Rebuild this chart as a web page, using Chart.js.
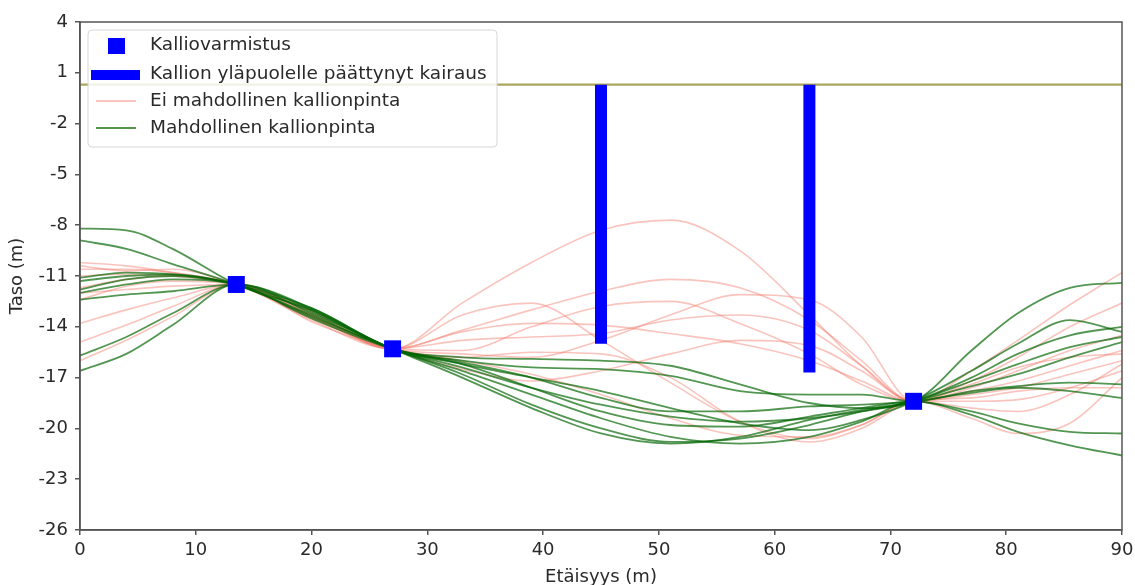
<!DOCTYPE html>
<html>
<head>
<meta charset="utf-8">
<script src="https://cdn.jsdelivr.net/npm/chart.js@4/dist/chart.umd.min.js"></script>
<style>
  html, body { margin: 0; padding: 0; background: #fff; }
  #wrap { width: 1135px; height: 585px; }
</style>
</head>
<body>
<div id="wrap"><canvas id="c" width="1135" height="585"></canvas></div>
<script>
// ---- data ----
const xPos = [0, 4, 8, 13.5, 20, 27, 33, 39, 45, 51, 57, 63, 67.5, 72, 77, 81, 85.5, 90];

const green1 = [-8.2, -8.3, -9.4, -11.5, -13.0, -15.3, -15.8, -15.9, -16.0, -16.3, -17.4, -18.5, -18.8, -18.4, -15.4, -13.2, -11.7, -11.4];
const green2 = [-8.9, -9.4, -10.3, -11.5, -13.3, -15.3, -16.2, -17.0, -17.8, -18.8, -19.7, -20.1, -19.5, -18.4, -16.6, -15.0, -13.6, -14.3];
const green3 = [-11.1, -10.8, -10.9, -11.5, -13.4, -15.3, -16.8, -18.6, -20.0, -20.8, -20.6, -19.8, -19.0, -18.4, -17.2, -16.2, -15.2, -14.6];
const green4 = [-11.3, -11.0, -10.9, -11.5, -13.1, -15.3, -16.4, -17.6, -18.6, -19.3, -19.6, -19.4, -19.0, -18.4, -17.0, -15.6, -14.5, -14.0];
const green5 = [-11.8, -11.2, -11.0, -11.5, -12.9, -15.3, -16.0, -16.4, -16.5, -16.9, -17.8, -18.0, -18.0, -18.4, -17.8, -17.5, -17.3, -17.4];
const green6 = [-12.4, -12.1, -11.9, -11.5, -13.0, -15.3, -16.6, -18.0, -19.4, -20.5, -20.9, -20.5, -19.6, -18.4, -19.0, -19.7, -20.2, -20.3];
const green7 = [-15.7, -14.6, -13.2, -11.5, -12.9, -15.3, -16.2, -17.6, -19.0, -19.8, -19.9, -19.3, -18.8, -18.4, -19.2, -20.2, -21.0, -21.6];
const green8 = [-16.6, -15.6, -13.9, -11.5, -13.2, -15.3, -17.0, -18.8, -20.3, -20.9, -20.5, -19.5, -18.9, -18.4, -17.5, -16.8, -15.8, -14.9];
const green9 = [-12.0, -11.5, -11.2, -11.5, -13.5, -15.3, -16.1, -17.0, -18.2, -19.0, -19.0, -18.7, -18.6, -18.4, -17.9, -17.6, -17.8, -18.2];

const pink1 = [-10.2, -10.4, -10.8, -11.5, -13.1, -15.3, -12.6, -10.2, -8.3, -7.7, -9.5, -13.3, -16.3, -18.4, -16.6, -14.8, -12.7, -10.8];
const pink2 = [-10.4, -10.7, -10.6, -11.5, -13.4, -15.3, -14.2, -13.0, -11.9, -11.2, -11.7, -13.6, -16.0, -18.4, -17.2, -15.8, -14.0, -12.6];
const pink3 = [-10.6, -10.6, -10.8, -11.5, -13.5, -15.3, -15.6, -15.8, -14.8, -13.3, -12.1, -12.4, -14.6, -18.4, -17.6, -16.6, -15.4, -14.5];
const pink4 = [-11.7, -11.2, -11.0, -11.5, -13.6, -15.3, -13.3, -12.6, -14.8, -17.3, -19.6, -20.6, -19.8, -18.4, -19.4, -20.3, -19.7, -17.0];
const pink5 = [-12.4, -11.6, -11.3, -11.5, -13.3, -15.3, -14.3, -13.8, -13.9, -14.4, -15.0, -16.0, -17.2, -18.4, -17.8, -17.2, -16.3, -15.4];
const pink6 = [-13.8, -13.0, -12.3, -11.5, -13.2, -15.3, -14.8, -14.6, -14.4, -13.6, -13.3, -14.2, -16.3, -18.4, -18.0, -17.6, -16.8, -16.0];
const pink7 = [-14.9, -13.9, -12.8, -11.5, -13.4, -15.3, -16.5, -17.2, -16.6, -15.6, -14.8, -15.1, -16.6, -18.4, -18.4, -18.3, -17.6, -16.6];
const pink8 = [-16.0, -14.8, -13.4, -11.5, -13.7, -15.3, -15.8, -15.5, -15.6, -17.0, -19.6, -20.8, -20.0, -18.4, -18.2, -17.8, -17.6, -17.6];
const pink9 = [-11.0, -10.9, -11.0, -11.5, -13.0, -15.3, -15.4, -14.0, -12.8, -12.5, -13.8, -15.6, -17.4, -18.4, -17.4, -16.4, -15.8, -15.6];
const pink10 = [-12.0, -11.8, -11.6, -11.5, -13.3, -15.3, -16.0, -16.8, -18.0, -19.4, -20.4, -20.5, -19.8, -18.4, -18.8, -19.0, -18.0, -16.2];

const groundX = [0, 90];
const groundLevel = [0.3, 0.3];

const drillX = [45, 63];
const drillTop = [0.3, 0.3];
const drillBottom = [-15.0, -16.7];

const rockX = [13.5, 27, 72];
const rockY = [-11.5, -15.3, -18.4];

const xTicks = [0, 10, 20, 30, 40, 50, 60, 70, 80, 90];
const yTicks = [4, 1, -2, -5, -8, -11, -14, -17, -20, -23, -26];

const legendLabels = ['Kalliovarmistus', 'Kallion yläpuolelle päättynyt kairaus', 'Ei mahdollinen kallionpinta', 'Mahdollinen kallionpinta'];
const xTitle = 'Etäisyys (m)';
const yTitle = 'Taso (m)';

// ---- styles ----
const GREEN = 'rgba(0,100,0,0.68)';
const PINK = 'rgba(242,125,108,0.45)';
const BLUE = '#0000ff';
const OLIVE = '#aaa65e';
const FONT = 'DejaVu Sans';
const TEXT = '#2a2a2a';
const AXIS = '#555';

const toPts = (xs, ys) => xs.map((x, i) => ({ x: x, y: ys[i] }));

const greens = [green1, green2, green3, green4, green5, green6, green7, green8, green9];
const pinks = [pink1, pink2, pink3, pink4, pink5, pink6, pink7, pink8, pink9, pink10];

const datasets = [];
pinks.forEach((p, i) => datasets.push({
  label: 'pink' + i, data: toPts(xPos, p), borderColor: PINK, borderWidth: 1.6,
  pointRadius: 0, cubicInterpolationMode: 'monotone', order: 5
}));
greens.forEach((g, i) => datasets.push({
  label: 'green' + i, data: toPts(xPos, g), borderColor: GREEN, borderWidth: 1.8,
  pointRadius: 0, cubicInterpolationMode: 'monotone', order: 4
}));
datasets.push({
  label: 'ground', data: toPts(groundX, groundLevel), borderColor: OLIVE, borderWidth: 2.2,
  pointRadius: 0, order: 3
});
drillX.forEach((x, i) => datasets.push({
  label: 'drill' + i, data: [{ x: x, y: drillTop[i] }, { x: x, y: drillBottom[i] }],
  borderColor: BLUE, borderWidth: 12, borderCapStyle: 'butt', pointRadius: 0, order: 2
}));
datasets.push({
  label: 'rock', data: toPts(rockX, rockY), showLine: false, pointStyle: 'rect',
  pointRadius: 12, backgroundColor: BLUE, borderColor: BLUE, borderWidth: 0, order: 1
});

const framePlugin = {
  id: 'frameAndLegend',
  afterDraw(chart) {
    const ctx = chart.ctx;
    const a = chart.chartArea;
    ctx.save();
    ctx.strokeStyle = AXIS;
    ctx.lineWidth = 1.5;
    ctx.strokeRect(a.left, a.top, a.right - a.left, a.bottom - a.top);

    // legend box
    const lx = 88, ly = 30, lw = 409, lh = 117, r = 4;
    ctx.beginPath();
    ctx.moveTo(lx + r, ly);
    ctx.arcTo(lx + lw, ly, lx + lw, ly + lh, r);
    ctx.arcTo(lx + lw, ly + lh, lx, ly + lh, r);
    ctx.arcTo(lx, ly + lh, lx, ly, r);
    ctx.arcTo(lx, ly, lx + lw, ly, r);
    ctx.closePath();
    ctx.fillStyle = 'rgba(255,255,255,0.85)';
    ctx.fill();
    ctx.strokeStyle = '#d6d6d6';
    ctx.lineWidth = 1;
    ctx.stroke();

    const rows = [45, 74, 101, 128];
    ctx.fillStyle = BLUE;
    ctx.fillRect(108, 38, 17, 16);
    ctx.fillRect(91, 70, 49, 10);
    ctx.strokeStyle = PINK; ctx.lineWidth = 2;
    ctx.beginPath(); ctx.moveTo(96, rows[2]); ctx.lineTo(136, rows[2]); ctx.stroke();
    ctx.strokeStyle = GREEN; ctx.lineWidth = 2;
    ctx.beginPath(); ctx.moveTo(96, rows[3]); ctx.lineTo(136, rows[3]); ctx.stroke();

    ctx.fillStyle = TEXT;
    ctx.font = '18.5px "' + FONT + '"';
    ctx.textBaseline = 'middle';
    ctx.textAlign = 'left';
    legendLabels.forEach((t, i) => ctx.fillText(t, 150, rows[i]));
    ctx.restore();
  }
};

new Chart(document.getElementById('c'), {
  type: 'line',
  data: { datasets: datasets },
  options: {
    responsive: false,
    animation: false,
    layout: { padding: { left: 0, right: 13, top: 22, bottom: 0 } },
    plugins: { legend: { display: false }, tooltip: { enabled: false } },
    scales: {
      x: {
        type: 'linear', min: 0, max: 90,
        afterBuildTicks: (s) => { s.ticks = xTicks.map(v => ({ value: v })); },
        afterFit: (s) => { s.height = 55; s.paddingRight = 0; s.paddingLeft = 0; },
        ticks: { color: TEXT, font: { family: FONT, size: 18 }, padding: 5, maxRotation: 0 },
        grid: { drawOnChartArea: false, drawTicks: true, tickLength: 5, color: AXIS, lineWidth: 1.5 },
        border: { color: AXIS, width: 1.5 },
        title: { display: true, text: xTitle, color: TEXT, font: { family: FONT, size: 18, lineHeight: 0.8 }, padding: { top: 0, bottom: 0 } }
      },
      y: {
        type: 'linear', min: -26, max: 4,
        afterBuildTicks: (s) => { s.ticks = yTicks.map(v => ({ value: v })); },
        afterFit: (s) => { s.width = 80; s.paddingTop = 0; s.paddingBottom = 0; },
        ticks: { color: TEXT, font: { family: FONT, size: 18 }, padding: 7 },
        grid: { drawOnChartArea: false, drawTicks: true, tickLength: 5, color: AXIS, lineWidth: 1.5 },
        border: { color: AXIS, width: 1.5 },
        title: { display: true, text: yTitle, color: TEXT, font: { family: FONT, size: 18 }, padding: { top: 7, bottom: 0 } }
      }
    }
  },
  plugins: [framePlugin]
});
</script>
</body>
</html>
